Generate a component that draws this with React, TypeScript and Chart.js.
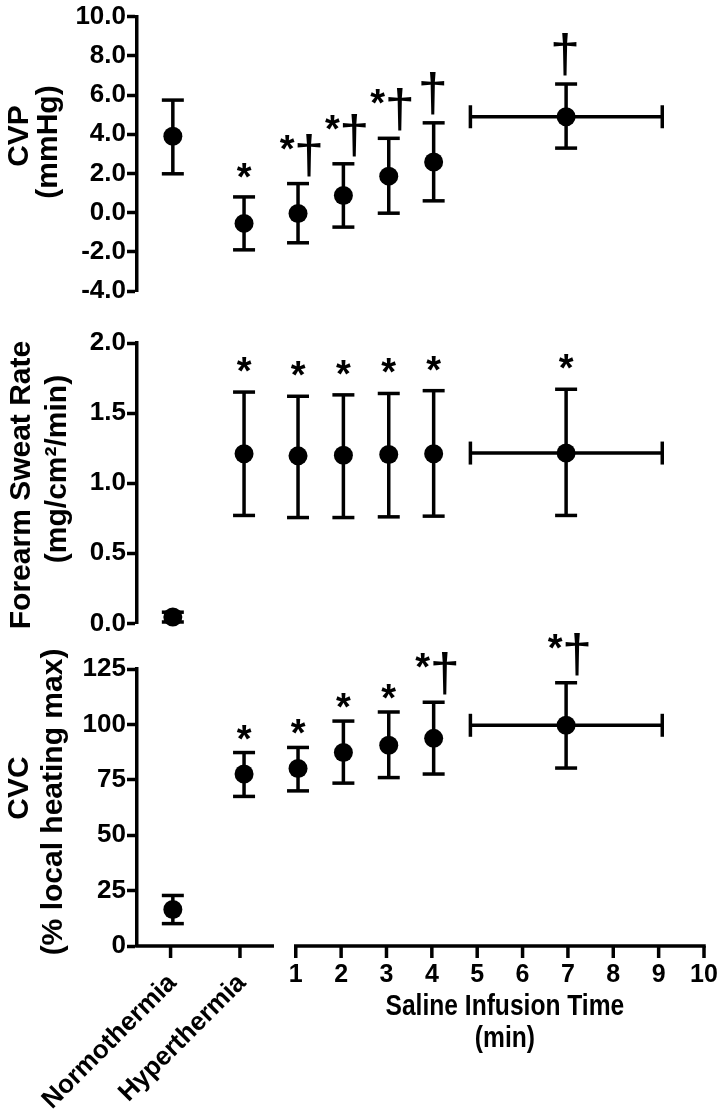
import React, { useEffect, useRef } from "react";
import { Chart, registerables } from "chart.js";

Chart.register(...registerables);

const FONT = '"Liberation Sans", Arial, Helvetica, sans-serif';

// ---- categories / x positions ----
const groupLabels = ["Normothermia", "Hyperthermia"];
const groupTickX = [-1.76, -0.23];
const minuteTicks = [1, 2, 3, 4, 5, 6, 7, 8, 9, 10];
const pointX = [-1.71, -0.14, 1.05, 2.05, 3.05, 4.04, 6.96];
const xErrLow = [null, null, null, null, null, null, 4.85];
const xErrHigh = [null, null, null, null, null, null, 9.08];
const xMin = -2.5;
const xMax = 10;
const leftSegmentEnd = 0.52;

// ---- CVP (mmHg) ----
const cvpMean = [3.9, -0.55, -0.05, 0.87, 1.86, 2.58, 4.89];
const cvpUpper = [5.74, 0.8, 1.48, 2.49, 3.79, 4.58, 6.56];
const cvpLower = [1.98, -1.9, -1.54, -0.74, -0.03, 0.6, 3.29];
const cvpMarks = ["", "*", "*†", "*†", "*†", "†", "†"];

// ---- Forearm sweat rate (mg/cm2/min) ----
const srMean = [0.045, 1.21, 1.195, 1.2, 1.205, 1.21, 1.215];
const srUpper = [0.08, 1.65, 1.62, 1.63, 1.64, 1.66, 1.67];
const srLower = [0.01, 0.77, 0.755, 0.755, 0.76, 0.765, 0.77];
const srMarks = ["", "*", "*", "*", "*", "*", "*"];

// ---- CVC (% local heating max) ----
const cvcMean = [16.5, 77.6, 80.1, 87.3, 90.6, 93.7, 99.6];
const cvcUpper = [22.8, 87.3, 89.6, 101.5, 105.6, 110, 118.8];
const cvcLower = [10.1, 67.5, 70, 73.5, 76, 77.6, 80.3];
const cvcMarks = ["", "*", "*", "*", "*", "*†", "*†"];

type Panel = {
  key: string;
  top: number;
  height: number;
  padTop: number;
  padBottom: number;
  min: number;
  max: number;
  step: number;
  decimals: number;
  mean: number[];
  upper: number[];
  lower: number[];
  marks: string[];
  starGap: number;
  titles: string[];
  titleX: number[];
  titleY: number[];
  xAxis: boolean;
};

const panels: Panel[] = [
  {
    key: "cvp", top: 0, height: 310, padTop: 13, padBottom: 19,
    min: -4, max: 10, step: 2, decimals: 1,
    mean: cvpMean, upper: cvpUpper, lower: cvpLower, marks: cvpMarks, starGap: 17,
    titles: ["CVP", "(mmHg)"], titleX: [28, 57], titleY: [136, 142], xAxis: false,
  },
  {
    key: "sr", top: 295, height: 345, padTop: 48, padBottom: 15,
    min: 0, max: 2, step: 0.5, decimals: 1,
    mean: srMean, upper: srUpper, lower: srLower, marks: srMarks, starGap: 18,
    titles: ["Forearm Sweat Rate", "(mg/cm²/min)"], titleX: [30, 66], titleY: [190, 174], xAxis: false,
  },
  {
    key: "cvc", top: 630, height: 479, padTop: 39, padBottom: 163,
    min: 0, max: 125, step: 25, decimals: 0,
    mean: cvcMean, upper: cvcUpper, lower: cvcLower, marks: cvcMarks, starGap: 11,
    titles: ["CVC", "(% local heating max)"], titleX: [28, 62], titleY: [158, 172], xAxis: true,
  },
];

const STAR_FONT = `bold 38px ${FONT}`;
const DAGGER_FONT = `normal 54px ${FONT}`;

function seg(ctx: CanvasRenderingContext2D, x1: number, y1: number, x2: number, y2: number) {
  ctx.beginPath();
  ctx.moveTo(x1, y1);
  ctx.lineTo(x2, y2);
  ctx.stroke();
}

// draw glyph so that its ink bottom sits at `bottom` (or ink top at `top`), centred at cx
function glyph(ctx: CanvasRenderingContext2D, t: string, font: string, cx: number, bottom: number | null, top: number | null) {
  ctx.font = font;
  ctx.textAlign = "center";
  ctx.textBaseline = "alphabetic";
  const m = ctx.measureText(t);
  let base: number;
  if (bottom != null) base = bottom - m.actualBoundingBoxDescent;
  else base = (top as number) + m.actualBoundingBoxAscent;
  ctx.fillText(t, cx, base);
  return { top: base - m.actualBoundingBoxAscent, bottom: base + m.actualBoundingBoxDescent };
}

function makePlugin(p: Panel) {
  return {
    id: "panel_" + p.key,
    beforeDatasetsDraw(chart: any) {
      const { ctx, scales } = chart;
      const x = scales.x;
      const y = scales.y;
      ctx.save();
      ctx.strokeStyle = "#000";
      ctx.lineWidth = 3.5;
      p.mean.forEach((m, i) => {
        const px = x.getPixelForValue(pointX[i]);
        const pu = y.getPixelForValue(p.upper[i]);
        const pl = y.getPixelForValue(p.lower[i]);
        seg(ctx, px, pu, px, pl);
        seg(ctx, px - 11, pu, px + 11, pu);
        seg(ctx, px - 11, pl, px + 11, pl);
        const lo = xErrLow[i];
        const hi = xErrHigh[i];
        if (lo != null && hi != null) {
          const py = y.getPixelForValue(m);
          const xl = x.getPixelForValue(lo);
          const xh = x.getPixelForValue(hi);
          seg(ctx, xl, py, xh, py);
          seg(ctx, xl, py - 11.5, xl, py + 11.5);
          seg(ctx, xh, py - 11.5, xh, py + 11.5);
        }
      });
      ctx.restore();
    },
    afterDraw(chart: any) {
      const { ctx, scales, chartArea } = chart;
      const x = scales.x;
      const y = scales.y;
      ctx.save();
      ctx.fillStyle = "#000";
      ctx.strokeStyle = "#000";

      // significance marks
      p.marks.forEach((t, i) => {
        if (!t) return;
        const px = x.getPixelForValue(pointX[i]);
        const cap = y.getPixelForValue(p.upper[i]) - 2;
        if (t === "*") {
          glyph(ctx, "*", STAR_FONT, px, cap - p.starGap, null);
        } else if (t === "†") {
          glyph(ctx, "†", DAGGER_FONT, px - 1, cap - 6, null);
        } else {
          const d = glyph(ctx, "†", DAGGER_FONT, px + 11, cap - 5, null);
          glyph(ctx, "*", STAR_FONT, px - 11, null, d.top + 1);
        }
      });

      // y-axis titles
      ctx.font = `bold 30px ${FONT}`;
      p.titles.forEach((t, i) => {
        ctx.save();
        ctx.translate(p.titleX[i], p.titleY[i]);
        ctx.rotate(-Math.PI / 2);
        ctx.textAlign = "center";
        ctx.textBaseline = "alphabetic";
        ctx.fillText(t, 0, 0);
        ctx.restore();
      });

      if (p.xAxis) {
        const yb = chartArea.bottom;
        ctx.lineWidth = 3.5;
        // left (categorical) segment
        seg(ctx, chartArea.left - 1.75, yb, x.getPixelForValue(leftSegmentEnd), yb);
        groupTickX.forEach((v) => {
          const px = x.getPixelForValue(v);
          seg(ctx, px, yb, px, yb + 12);
        });
        // right (time) segment
        const r0 = x.getPixelForValue(minuteTicks[0]);
        const r1 = x.getPixelForValue(minuteTicks[minuteTicks.length - 1]);
        seg(ctx, r0 - 1.75, yb, r1 + 1.75, yb);
        ctx.font = `bold 25px ${FONT}`;
        ctx.textAlign = "center";
        ctx.textBaseline = "alphabetic";
        minuteTicks.forEach((v) => {
          const px = x.getPixelForValue(v);
          seg(ctx, px, yb, px, yb + 12);
          ctx.fillText(String(v), px, yb + 36);
        });
        // rotated category labels
        ctx.font = `bold 26px ${FONT}`;
        groupLabels.forEach((t, i) => {
          const px = x.getPixelForValue(groupTickX[i]);
          ctx.save();
          ctx.translate(px + 7, yb + 38);
          ctx.rotate(-Math.PI / 4);
          ctx.textAlign = "right";
          ctx.textBaseline = "alphabetic";
          ctx.fillText(t, 0, 0);
          ctx.restore();
        });
        // x-axis title (condensed)
        const cx = (r0 + r1) / 2 + 5;
        ctx.font = `bold 30px ${FONT}`;
        ctx.textAlign = "center";
        ctx.save();
        ctx.translate(cx, yb + 69);
        ctx.scale(0.82, 1);
        ctx.fillText("Saline Infusion Time", 0, 0);
        ctx.restore();
        ctx.save();
        ctx.translate(cx, yb + 101);
        ctx.scale(0.82, 1);
        ctx.fillText("(min)", 0, 0);
        ctx.restore();
      }
      ctx.restore();
    },
  };
}

function buildConfig(p: Panel): any {
  return {
    type: "scatter",
    data: {
      datasets: [
        {
          data: pointX.map((xv, i) => ({ x: xv, y: p.mean[i] })),
          backgroundColor: "#000",
          borderWidth: 0,
          pointRadius: 9.5,
          pointHoverRadius: 9.5,
          clip: false,
        },
      ],
    },
    options: {
      responsive: false,
      animation: false,
      events: [],
      layout: { padding: { top: p.padTop, bottom: p.padBottom, left: 0, right: 16 } },
      plugins: { legend: { display: false }, tooltip: { enabled: false }, title: { display: false } },
      scales: {
        x: { type: "linear", min: xMin, max: xMax, display: false },
        y: {
          type: "linear",
          min: p.min,
          max: p.max,
          afterFit: (s: any) => {
            s.width = 137;
          },
          ticks: {
            stepSize: p.step,
            autoSkip: false,
            padding: 1,
            color: "#000",
            font: { family: FONT, size: 26, weight: "bold" },
            callback: (v: any) => Number(v).toFixed(p.decimals),
          },
          grid: {
            drawOnChartArea: false,
            drawTicks: true,
            tickLength: 10,
            tickWidth: 3.5,
            tickColor: "#000",
          },
          border: { display: true, color: "#000", width: 3.5 },
        },
      },
    },
    plugins: [makePlugin(p)],
  };
}

export default function App() {
  const refs = useRef<(HTMLCanvasElement | null)[]>([]);
  useEffect(() => {
    const charts = panels.map((p, i) => new Chart(refs.current[i] as HTMLCanvasElement, buildConfig(p)));
    return () => charts.forEach((c) => c.destroy());
  }, []);
  return (
    <div style={{ position: "absolute", left: 0, top: 0, width: 720, height: 1109, background: "#fff" }}>
      {panels.map((p, i) => (
        <canvas
          key={p.key}
          ref={(el) => {
            refs.current[i] = el;
          }}
          width={720}
          height={p.height}
          style={{ position: "absolute", left: 0, top: p.top, width: 720, height: p.height }}
        />
      ))}
    </div>
  );
}
